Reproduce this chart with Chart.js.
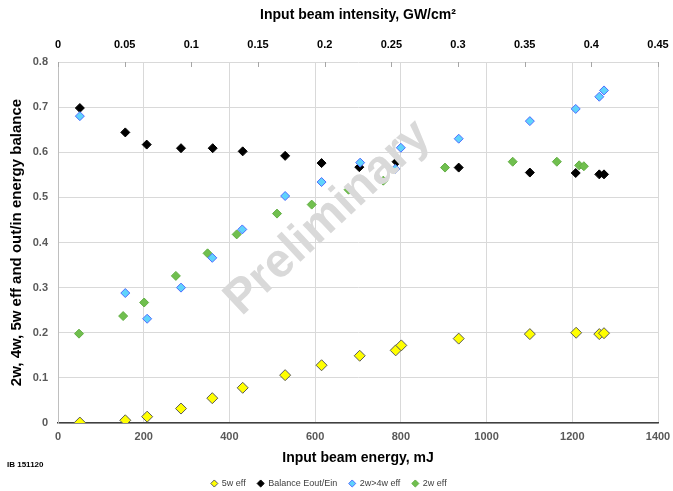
<!DOCTYPE html>
<html>
<head>
<meta charset="utf-8">
<script src="https://cdn.jsdelivr.net/npm/chart.js@4/dist/chart.umd.min.js"></script>
<style>
  html, body { margin: 0; padding: 0; background: #fff; }
  #wrap { position: relative; width: 673px; height: 491px; }
  #stamp { position: absolute; left: 7px; top: 460px; font: bold 8px "Liberation Sans", Arial, sans-serif; color: #000; }
</style>
</head>
<body>
<div id="wrap">
  <canvas id="c" width="673" height="491"></canvas>
  <div id="stamp">IB 151120</div>
</div>
<script>
// Input energy of each shot, mJ
const energyShots = [51, 157, 208, 287, 360, 431, 530, 615, 704, 788, 801, 935, 1101, 1209, 1263, 1274];
// 5w efficiency
const eff5w = [0.001, 0.006, 0.014, 0.032, 0.055, 0.078, 0.106, 0.128, 0.149, 0.161, 0.172, 0.187, 0.197, 0.200, 0.197, 0.199];
// Energy balance Eout/Ein (one fewer shot)
const energyBalance = [51, 157, 207, 287, 361, 431, 530, 615, 703, 790, 935, 1101, 1208, 1263, 1274];
const balance = [0.698, 0.644, 0.617, 0.609, 0.609, 0.602, 0.592, 0.576, 0.567, 0.579, 0.566, 0.555, 0.554, 0.551, 0.551];
// 2w -> 4w conversion efficiency
const energy4w = [51, 157, 208, 287, 360, 430, 530, 615, 705, 787, 800, 935, 1101, 1208, 1263, 1274];
const eff2wTo4w = [0.680, 0.288, 0.231, 0.300, 0.366, 0.429, 0.503, 0.534, 0.577, 0.563, 0.610, 0.630, 0.669, 0.696, 0.723, 0.737];
// 2w efficiency
const energy2w = [49, 152, 201, 275, 349, 417, 511, 592, 678, 759, 903, 1061, 1164, 1216, 1227];
const eff2w = [0.198, 0.237, 0.267, 0.326, 0.376, 0.418, 0.464, 0.484, 0.517, 0.537, 0.566, 0.579, 0.579, 0.571, 0.569];

// Axis tick labels
const energyTickLabels = ['0', '200', '400', '600', '800', '1000', '1200', '1400'];
const intensityTickLabels = ['0', '0.05', '0.1', '0.15', '0.2', '0.25', '0.3', '0.35', '0.4', '0.45'];
const effTickLabels = ['0', '0.1', '0.2', '0.3', '0.4', '0.5', '0.6', '0.7', '0.8'];

const pts = (xs, ys) => xs.map((x, i) => ({ x: x, y: ys[i] }));

const SANS = '"Liberation Sans", Arial, sans-serif';

// short inward tick marks along the top (intensity) axis
const topTickMarks = {
  id: 'topTickMarks',
  beforeDatasetsDraw(chart) {
    const s = chart.scales.x2, ctx = chart.ctx, top = chart.chartArea.top;
    ctx.save();
    ctx.strokeStyle = '#a6a6a6';
    ctx.lineWidth = 1;
    s.ticks.forEach((t, i) => {
      const px = Math.round(s.getPixelForTick(i)) + 0.5;
      ctx.beginPath();
      ctx.moveTo(px, top);
      ctx.lineTo(px, top + 5);
      ctx.stroke();
    });
    ctx.restore();
  }
};

// "Preliminary" stamp across the plot
const stampText = {
  id: 'stampText',
  afterDatasetsDraw(chart) {
    const ctx = chart.ctx;
    ctx.save();
    ctx.translate(328, 218);
    ctx.rotate(-43 * Math.PI / 180);
    ctx.font = 'bold 48px ' + SANS;
    ctx.fillStyle = '#d9d9d9';
    ctx.textAlign = 'center';
    ctx.textBaseline = 'middle';
    ctx.fillText('Preliminary', 0, 0);
    ctx.restore();
  }
};

const noSidePadding = s => { s.paddingLeft = 0; s.paddingRight = 0; };

new Chart(document.getElementById('c'), {
  type: 'scatter',
  data: {
    datasets: [
      { label: '5w eff', data: pts(energyShots, eff5w), pointStyle: 'rectRot', pointRadius: 5.5,
        backgroundColor: '#ffff00', borderColor: '#595959', borderWidth: 1, order: 3 },
      { label: 'Balance Eout/Ein', data: pts(energyBalance, balance), pointStyle: 'rectRot', pointRadius: 4.5,
        backgroundColor: '#000000', borderColor: '#000000', borderWidth: 1, order: 2 },
      { label: '2w>4w eff', data: pts(energy4w, eff2wTo4w), pointStyle: 'rectRot', pointRadius: 4.5,
        backgroundColor: '#5fd3fb', borderColor: '#4f6cff', borderWidth: 1, order: 0 },
      { label: '2w eff', data: pts(energy2w, eff2w), pointStyle: 'rectRot', pointRadius: 4.5,
        backgroundColor: '#70bf4e', borderColor: '#62ae44', borderWidth: 1, order: 1 }
    ]
  },
  options: {
    responsive: false,
    animation: false,
    devicePixelRatio: 1,
    layout: { padding: { left: 0, right: 15, top: 0, bottom: -7 } },
    plugins: {
      tooltip: { enabled: false },
      legend: {
        position: 'bottom',
        labels: {
          usePointStyle: true,
          boxHeight: 5,
          boxWidth: 6,
          padding: 12,
          color: '#404040',
          font: { family: SANS, size: 9 },
          sort: (a, b) => a.datasetIndex - b.datasetIndex
        }
      }
    },
    scales: {
      x: {
        type: 'linear', position: 'bottom', min: 0, max: 1400,
        ticks: { stepSize: 200, padding: 7, color: '#595959', font: { family: SANS, size: 11, weight: 'bold' },
                 callback: (v, i) => energyTickLabels[i] },
        grid: { color: '#d9d9d9', drawTicks: false },
        border: { color: '#404040', width: 1.5 },
        title: { display: true, text: 'Input beam energy, mJ', color: '#000',
                 font: { family: SANS, size: 14, weight: 'bold' }, padding: { top: 0, bottom: 0 } },
        afterFit: s => { s.height = 44; noSidePadding(s); }
      },
      x2: {
        type: 'linear', position: 'top', axis: 'x', min: 0, max: 0.45,
        ticks: { stepSize: 0.05, padding: 10, color: '#000', font: { family: SANS, size: 11, weight: 'bold' },
                 callback: (v, i) => intensityTickLabels[i] },
        grid: { drawOnChartArea: false, drawTicks: false },
        border: { display: false },
        title: { display: true, text: 'Input beam intensity, GW/cm²', color: '#000',
                 font: { family: SANS, size: 14, weight: 'bold' }, padding: { top: 7, bottom: 0 } },
        afterFit: s => { s.height = 62; noSidePadding(s); }
      },
      y: {
        type: 'linear', position: 'left', min: 0, max: 0.8,
        ticks: { stepSize: 0.1, padding: 10, color: '#595959', font: { family: SANS, size: 11, weight: 'bold' },
                 callback: (v, i) => effTickLabels[i] },
        grid: { color: '#d9d9d9', drawTicks: false },
        border: { color: '#bfbfbf', width: 1 },
        title: { display: true, text: '2w, 4w, 5w eff and out/in energy balance', color: '#000',
                 font: { family: SANS, size: 15, weight: 'bold' }, padding: { top: 8, bottom: 0 } },
        afterFit: s => { s.width = 58; }
      }
    }
  },
  plugins: [topTickMarks, stampText]
});
</script>
</body>
</html>
